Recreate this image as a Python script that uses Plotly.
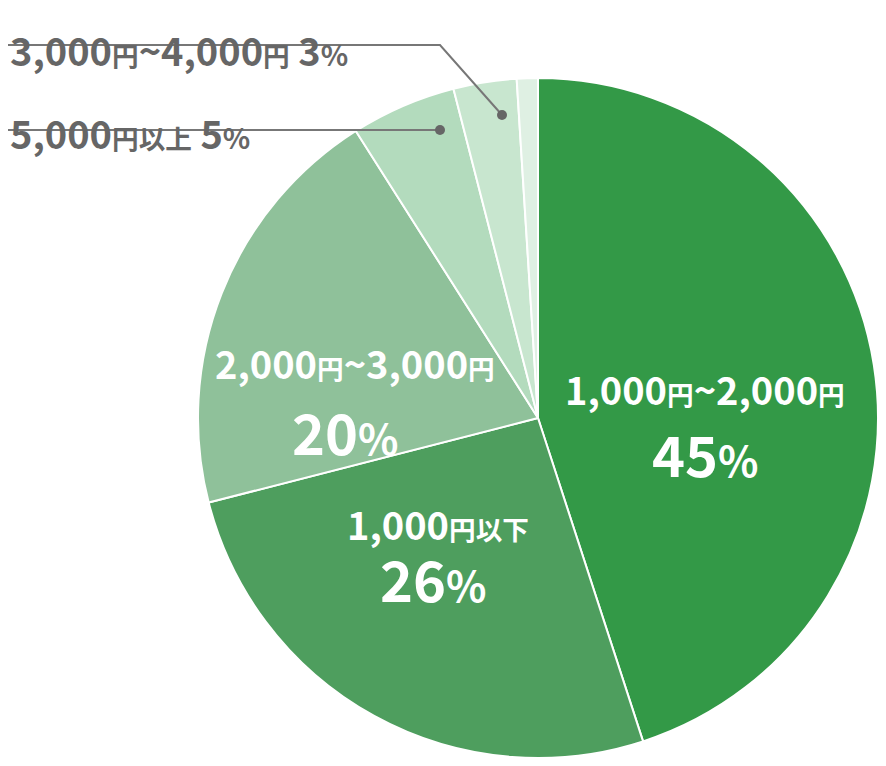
import plotly.graph_objects as go

W, H = 870, 750
OFF = 8  # page body margin

labels = ["1,000円~2,000円", "1,000円以下", "2,000円~3,000円", "5,000円以上", "3,000円~4,000円", "その他"]
values = [45, 26, 20, 5, 3, 1]
colors = ["#339947", "#4e9e5e", "#8fc19a", "#b3dbbd", "#c8e6cf", "#dff0e3"]

FONT = "Noto Sans CJK JP"


def px(x, y):
    return (x - OFF) / W, 1 - (y - OFF) / H


def small(s):
    return s.replace("円", "<span style='font-size:0.7em'>円</span>").replace(
        "以下", "<span style='font-size:0.7em'>以下</span>").replace(
        "以上", "<span style='font-size:0.7em'>以上</span>").replace(
        "%", "<span style='font-size:0.75em'>%</span>")


dx0, dy1 = px(198, 78)
dx1, dy0 = px(884, 764)
fig = go.Figure(go.Pie(
    labels=labels, values=values, sort=False, direction="clockwise", rotation=0,
    marker=dict(colors=colors, line=dict(color="white", width=2)),
    textinfo="none", hoverinfo="label+percent", showlegend=False,
    domain=dict(x=[dx0, min(dx1, 1)], y=[max(dy0, 0), dy1]),
))

ann = []
inner = [
    (labels[0], f"{values[0]}%", 563, 388, 705, 452),
    (labels[1], f"{values[1]}%", 345, 553, 433, 620),
    (labels[2], f"{values[2]}%", 213, 362, 345, 430),
]
for name, pct, xl, y1, xc, y2 in inner:
    ax, ay = px(xl, y1)
    ann.append(dict(x=ax, y=ay, xref="paper", yref="paper", xanchor="left", text=small(name),
                    showarrow=False, font=dict(family=FONT, size=38, color="white", weight="bold")))
    ax, ay = px(xc, y2)
    ann.append(dict(x=ax, y=ay, xref="paper", yref="paper", xanchor="center", text=small(pct),
                    showarrow=False, font=dict(family=FONT, size=56, color="white", weight="bold")))

outer = [(f"{labels[4]} {values[4]}%", 20), (f"{labels[3]} {values[3]}%", 103)]
for txt, y in outer:
    ax, ay = px(4, y)
    ann.append(dict(x=max(ax, 0), y=ay, xref="paper", yref="paper", xanchor="left", text=small(txt),
                    showarrow=False, font=dict(family=FONT, size=38, color="#666666", weight="bold")))

shapes = []
for pts in [[(0, 45), (440, 45), (502, 115)], [(0, 130), (440, 130)]]:
    path = "M " + " L ".join(f"{px(x, y)[0]},{px(x, y)[1]}" for x, y in pts)
    shapes.append(dict(type="path", path=path, xref="paper", yref="paper",
                       line=dict(color="#777777", width=2)))
    ex, ey = pts[-1]
    x0, y0 = px(ex - 5, ey + 5)
    x1, y1 = px(ex + 5, ey - 5)
    shapes.append(dict(type="circle", xref="paper", yref="paper", x0=x0, y0=y0, x1=x1, y1=y1,
                       fillcolor="#666666", line=dict(width=0)))

fig.update_layout(width=W, height=H, margin=dict(l=0, r=0, t=0, b=0),
                  paper_bgcolor="white", annotations=ann, shapes=shapes)
fig.write_html("out.html")
